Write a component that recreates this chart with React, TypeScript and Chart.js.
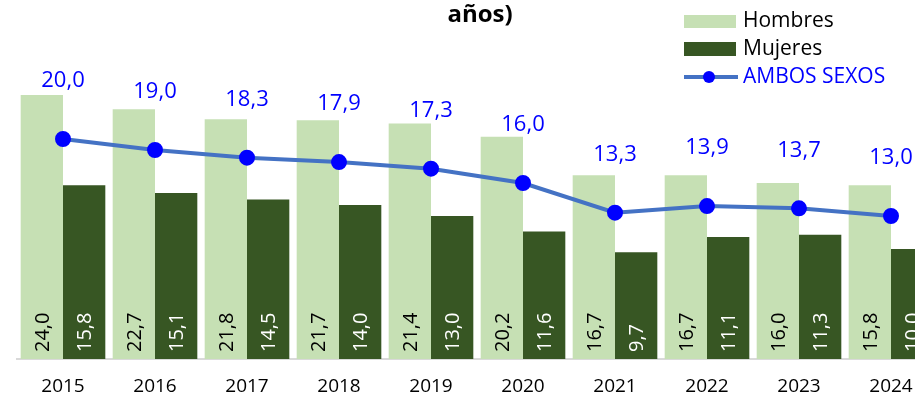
import React, { useEffect, useRef } from 'react';
import { Chart, registerables } from 'chart.js';

Chart.register(...registerables);

const years = ['2015', '2016', '2017', '2018', '2019', '2020', '2021', '2022', '2023', '2024'];
const hombres = [24.0, 22.7, 21.8, 21.7, 21.4, 20.2, 16.7, 16.7, 16.0, 15.8];
const mujeres = [15.8, 15.1, 14.5, 14.0, 13.0, 11.6, 9.7, 11.1, 11.3, 10.0];
const ambos = [20.0, 19.0, 18.3, 17.9, 17.3, 16.0, 13.3, 13.9, 13.7, 13.0];
const titleText = 'años)';
const legendLabels = ['Hombres', 'Mujeres', 'AMBOS SEXOS'];

const FONT = "'Open Sans', sans-serif";
const C_H = '#C6E0B4';
const C_M = '#375623';
const C_LINE = '#4472C4';
const C_PT = '#0000FF';

const fmt = (v: number) => v.toFixed(1).replace('.', ',');

const labelsPlugin = {
  id: 'customLabels',
  afterDatasetsDraw(chart: any) {
    const ctx = chart.ctx;
    ctx.save();
    [0, 1].forEach((di) => {
      const meta = chart.getDatasetMeta(di);
      const data = chart.data.datasets[di].data as number[];
      meta.data.forEach((el: any, i: number) => {
        ctx.save();
        ctx.translate(el.x, el.base - 7);
        ctx.rotate(-Math.PI / 2);
        ctx.font = `20px ${FONT}`;
        ctx.fillStyle = di === 0 ? '#000000' : '#FFFFFF';
        ctx.textAlign = 'left';
        ctx.textBaseline = 'middle';
        ctx.fillText(fmt(data[i]), 0, 1);
        ctx.restore();
      });
    });
    const lm = chart.getDatasetMeta(2);
    lm.data.forEach((el: any, i: number) => {
      ctx.font = `22px ${FONT}`;
      ctx.fillStyle = C_PT;
      ctx.textAlign = 'center';
      ctx.textBaseline = 'middle';
      ctx.fillText(fmt(ambos[i]), el.x, el.y - 58);
    });
    ctx.restore();
  },
  afterDraw(chart: any) {
    const ctx = chart.ctx;
    ctx.save();
    ctx.font = `bold 24px ${FONT}`;
    ctx.fillStyle = '#000000';
    ctx.textAlign = 'center';
    ctx.textBaseline = 'middle';
    ctx.fillText(titleText, 480, 15);
    ctx.font = `21px ${FONT}`;
    ctx.textAlign = 'left';
    ctx.textBaseline = 'middle';
    ctx.fillStyle = C_H;
    ctx.fillRect(684, 15, 52, 13);
    ctx.fillStyle = '#000000';
    ctx.fillText(legendLabels[0], 743, 21);
    ctx.fillStyle = C_M;
    ctx.fillRect(684, 42, 52, 14);
    ctx.fillStyle = '#000000';
    ctx.fillText(legendLabels[1], 743, 49);
    ctx.strokeStyle = C_LINE;
    ctx.lineWidth = 4;
    ctx.beginPath();
    ctx.moveTo(684, 77);
    ctx.lineTo(738, 77);
    ctx.stroke();
    ctx.fillStyle = C_PT;
    ctx.beginPath();
    ctx.arc(709, 77, 6, 0, Math.PI * 2);
    ctx.fill();
    ctx.fillText(legendLabels[2], 743, 77);
    ctx.restore();
  },
};

export default function App() {
  const ref = useRef<HTMLCanvasElement>(null);
  useEffect(() => {
    if (!ref.current) return;
    const chart = new Chart(ref.current, {
      type: 'bar',
      data: {
        labels: years,
        datasets: [
          {
            type: 'bar',
            label: 'Hombres',
            data: hombres,
            backgroundColor: C_H,
            categoryPercentage: 0.92,
            barPercentage: 1,
            order: 2,
          },
          {
            type: 'bar',
            label: 'Mujeres',
            data: mujeres,
            backgroundColor: C_M,
            categoryPercentage: 0.92,
            barPercentage: 1,
            order: 2,
          },
          {
            type: 'line',
            label: 'AMBOS SEXOS',
            data: ambos,
            borderColor: C_LINE,
            borderWidth: 4,
            pointBackgroundColor: C_PT,
            pointBorderColor: C_PT,
            pointRadius: 6,
            tension: 0,
            order: 0,
          } as any,
        ],
      },
      options: {
        responsive: false,
        animation: false,
        layout: { padding: { left: 17, right: 13, top: 29, bottom: 0 } },
        plugins: {
          legend: { display: false },
          title: { display: false },
          tooltip: { enabled: false },
        },
        scales: {
          x: {
            grid: { display: false, drawTicks: false },
            border: { display: true, color: '#D9D9D9', width: 2 },
            ticks: { font: { family: FONT, size: 19 }, color: '#000000', padding: 16, maxRotation: 0 },
            afterFit: (scale: any) => {
              scale.height = 43;
            },
          },
          y: {
            display: false,
            min: 0,
            max: 30,
          },
        },
      },
      plugins: [labelsPlugin],
    });
    return () => chart.destroy();
  }, []);
  return (
    <div style={{ position: 'fixed', left: 0, top: 0, width: 915, height: 402, overflow: 'hidden', background: '#fff' }}>
      <canvas ref={ref} width={950} height={402} style={{ display: 'block' }} />
    </div>
  );
}
